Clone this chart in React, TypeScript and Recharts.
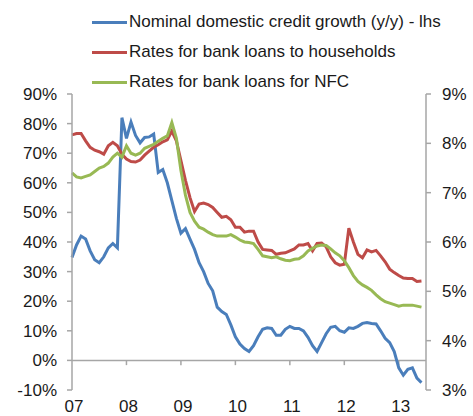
import React from "react";
import { ComposedChart, Line, XAxis, YAxis, ReferenceLine } from "recharts";

// Month index 0 = Jan 2007
const creditGrowth = [
  34.8, 39, 42, 41, 37, 34, 33, 35, 38, 39.5, 38, 82, 75, 80.5, 76, 73.5, 75.3, 75.5, 76.5, 63.5,
  64.5, 60, 54, 48, 43, 44.5, 41, 37.5, 33, 30, 26, 23.5, 18, 16.5, 15.5, 12, 8, 5.5, 4, 3,
  5, 8, 10.5, 11, 10.8, 8.5, 8.5, 10.5, 11.5, 10.8, 10.8, 10, 7.8, 5, 3, 6, 9, 11.2, 11.5, 10,
  9.5, 11, 10.8, 11.5, 12.5, 12.8, 12.5, 12.3, 10, 7.5, 6, 3, -2.5, -5, -3, -2.5, -6, -7.5,
];
const householdRates = [
  8.17, 8.2, 8.2, 8.05, 7.92, 7.86, 7.83, 7.78, 7.95, 8.02, 7.95, 7.78, 7.68, 7.63, 7.62, 7.66, 7.76, 7.84, 7.92, 7.97,
  8.03, 8.07, 8.25, 8.05, 7.65, 7.25, 6.9, 6.62, 6.77, 6.79, 6.76, 6.7, 6.6, 6.5, 6.52, 6.45, 6.3, 6.3, 6.2, 6.22,
  6.22, 6.0, 5.85, 5.84, 5.83, 5.75, 5.77, 5.78, 5.82, 5.86, 5.94, 5.94, 5.97, 5.82, 5.97, 5.98, 5.9, 5.7, 5.58, 5.53,
  5.55, 6.28, 6.0, 5.75, 5.68, 5.84, 5.8, 5.83, 5.72, 5.6, 5.45, 5.38, 5.32, 5.27, 5.26, 5.26, 5.2, 5.21,
];
const nfcRates = [
  7.4, 7.32, 7.3, 7.33, 7.36, 7.43, 7.5, 7.53, 7.6, 7.72, 7.8, 7.72, 7.95, 7.8, 7.76, 7.8, 7.9, 7.94, 7.98, 8.04,
  8.1, 8.15, 8.42, 8.1, 7.45, 6.95, 6.6, 6.42, 6.3, 6.26, 6.2, 6.15, 6.12, 6.12, 6.12, 6.15, 6.1, 6.04, 6.0, 5.99,
  5.97, 5.85, 5.72, 5.7, 5.68, 5.7, 5.66, 5.63, 5.62, 5.65, 5.66, 5.72, 5.82, 5.87, 5.92, 5.94, 5.93, 5.86, 5.78, 5.72,
  5.62, 5.48, 5.32, 5.2, 5.13, 5.08, 5.02, 4.93, 4.85, 4.79, 4.76, 4.73, 4.7, 4.72, 4.72, 4.72, 4.7, 4.68,
];

const yearTicks = [0, 12, 24, 36, 48, 60, 72];
const yearLabels = ["07", "08", "09", "10", "11", "12", "13"];
const leftTicks = [-10, 0, 10, 20, 30, 40, 50, 60, 70, 80, 90];
const rightTicks = [3, 4, 5, 6, 7, 8, 9];

const seriesNames = [
  "Nominal domestic credit growth (y/y) - lhs",
  "Rates for bank loans to households",
  "Rates for bank loans for NFC",
];
const seriesKeys = ["credit", "households", "nfc"];
const seriesColors = ["#4a7ebb", "#be4b48", "#98b954"];
const seriesAxes = ["left", "right", "right"];

const data = creditGrowth.map((v, i) => ({
  t: i,
  credit: v,
  households: householdRates[i],
  nfc: nfcRates[i],
}));

const FONT = "'Liberation Sans', Arial, sans-serif";
const AXIS = "#a6a6a6";
const TEXT = "#1a1a1a";

export default function App() {
  return (
    <div style={{ position: "absolute", left: 0, top: 0, width: 473, height: 416, background: "#fff", fontFamily: FONT }}>
      <ComposedChart
        width={473}
        height={416}
        data={data}
        margin={{ top: 94, right: 0, bottom: 0, left: 10 }}
      >
        <XAxis
          dataKey="t"
          type="number"
          domain={[0, 78]}
          ticks={yearTicks}
          interval={0}
          tickFormatter={(v: number) => yearLabels[yearTicks.indexOf(v)]}
          axisLine={false}
          tickLine={false}
          tickSize={0}
          tickMargin={10}
          height={26}
          tick={{ fill: TEXT, fontSize: 17, fontFamily: FONT, dx: 2 }}
        />
        <YAxis
          yAxisId="left"
          domain={[-10, 90]}
          ticks={leftTicks}
          interval={0}
          width={62}
          tickFormatter={(v: number) => `${v}%`}
          axisLine={{ stroke: AXIS, strokeWidth: 1.5 }}
          tickLine={{ stroke: AXIS, strokeWidth: 1.5 }}
          tickSize={5}
          tickMargin={10}
          tick={{ fill: TEXT, fontSize: 17, fontFamily: FONT }}
        />
        <YAxis
          yAxisId="right"
          orientation="right"
          domain={[3, 9]}
          ticks={rightTicks}
          interval={0}
          width={47}
          tickFormatter={(v: number) => `${v}%`}
          axisLine={{ stroke: AXIS, strokeWidth: 1.5 }}
          tickLine={{ stroke: AXIS, strokeWidth: 1.5 }}
          tickSize={5}
          tickMargin={11}
          tick={{ fill: TEXT, fontSize: 17, fontFamily: FONT }}
        />
        <ReferenceLine yAxisId="left" y={0} stroke={AXIS} strokeWidth={1.5} />
        {yearTicks.slice(1).map((t) => (
          <ReferenceLine
            key={t}
            yAxisId="left"
            segment={[{ x: t, y: 0 }, { x: t, y: -1.6 }]}
            stroke={AXIS}
            strokeWidth={1.5}
          />
        ))}
        {seriesKeys.map((k, i) => (
          <Line
            key={k}
            yAxisId={seriesAxes[i]}
            dataKey={k}
            type="linear"
            stroke={seriesColors[i]}
            strokeWidth={3}
            dot={false}
            isAnimationActive={false}
          />
        ))}
      </ComposedChart>
      <div style={{ position: "absolute", left: 92, top: 7 }}>
        {seriesNames.map((n, i) => (
          <div key={n} style={{ display: "flex", alignItems: "center", height: 30 }}>
            <div style={{ width: 35, height: 3, background: seriesColors[i], marginRight: 2 }} />
            <span style={{ fontSize: 17, color: TEXT, whiteSpace: "nowrap", fontFamily: FONT }}>{n}</span>
          </div>
        ))}
      </div>
    </div>
  );
}
